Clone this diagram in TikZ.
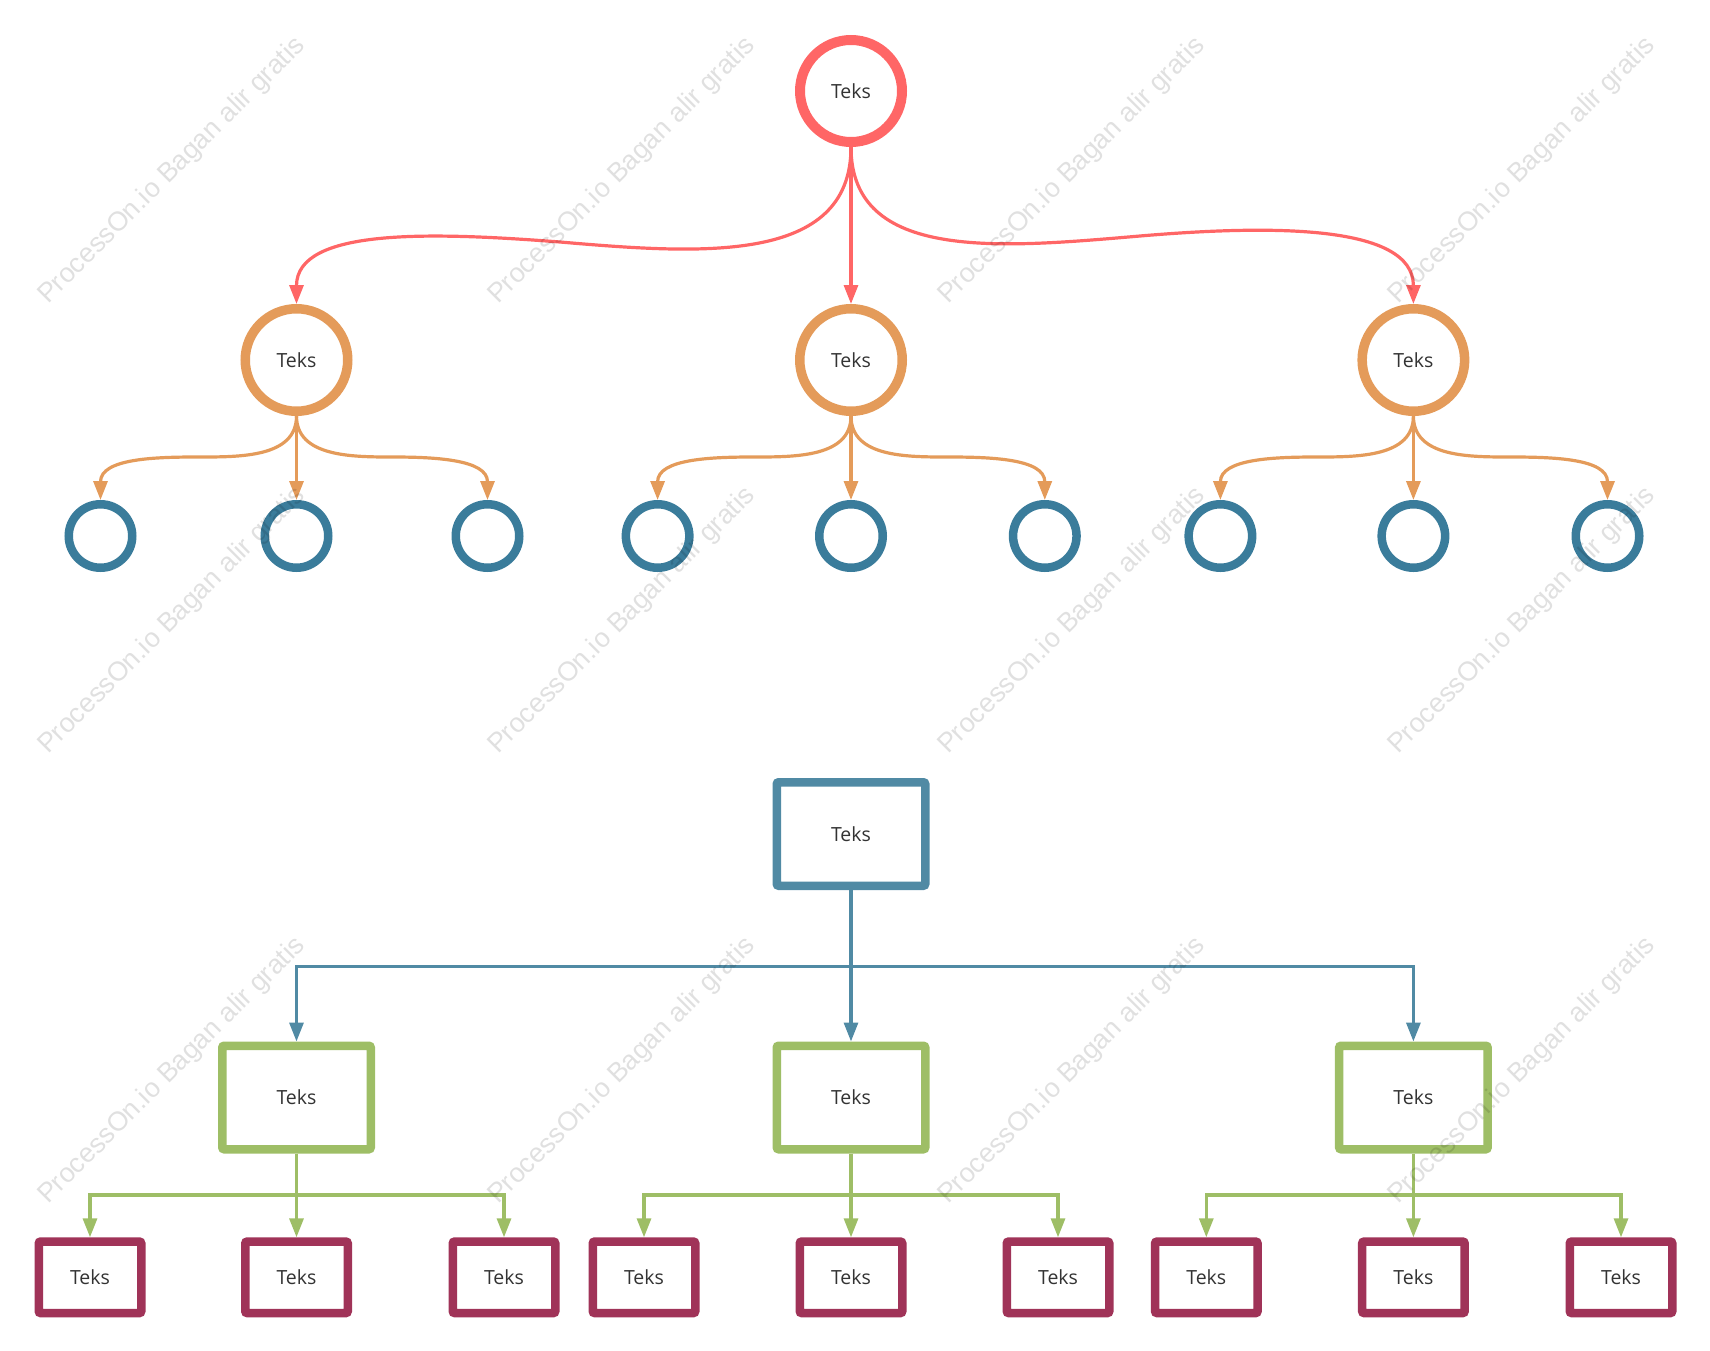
\documentclass[tikz,border=0pt]{standalone}
\usepackage{fontspec}
\setmainfont{Open Sans}
\newfontfamily\wmfont{Liberation Sans}
\usepackage{tikz}
\usetikzlibrary{arrows.meta,shapes}
\definecolor{rootred}{HTML}{FF6666}
\definecolor{midorange}{HTML}{E49B5A}
\definecolor{leafblue}{HTML}{3A7C9B}
\definecolor{boxblue}{HTML}{508AA4}
\definecolor{boxgreen}{HTML}{9EBE66}
\definecolor{boxmagenta}{HTML}{A03358}
\definecolor{tekstext}{HTML}{333333}

\begin{document}
\begin{tikzpicture}[x=1pt, y=1pt,
		teks/.style={font=\fontsize{19.5}{22}\selectfont, text=tekstext},
		rootcirc/.style={circle, teks, draw=rootred, line width=10pt, fill=white, minimum size=102pt, inner sep=0pt},
		midcirc/.style={circle, teks, draw=midorange, line width=9.5pt, fill=white, minimum size=102.5pt, inner sep=0pt},
		leafcirc/.style={circle, draw=leafblue, line width=8.5pt, fill=white, minimum size=63.5pt, inner sep=0pt},
		topbox/.style={rectangle, rounded corners=2pt, teks, draw=boxblue, line width=8.5pt, fill=white, minimum width=148.5pt, minimum height=103.5pt},
		midbox/.style={rectangle, rounded corners=2pt, teks, draw=boxgreen, line width=8.5pt, fill=white, minimum width=148.5pt, minimum height=103.5pt},
		leafbox/.style={rectangle, rounded corners=2pt, teks, draw=boxmagenta, line width=8.5pt, fill=white, minimum width=102.5pt, minimum height=71.5pt},
		conn/.style={-{Triangle[length=19pt,width=14pt]}, line width=3.2pt},
		redarrow/.style={conn, draw=rootred},
		orangearrow/.style={conn, draw=midorange},
		bluearrow/.style={conn, draw=boxblue},
		greenarrow/.style={conn, draw=boxgreen},
		wm/.style={rotate=45, anchor=base west, inner sep=0pt, font=\wmfont\fontsize{27}{30}\selectfont, text=black, text opacity=0.12}
	]
	\useasboundingbox (0,0) rectangle (1710,-1351);

	\node[rootcirc] (r) at (851,-91) {Teks};
	\node[midcirc] (o1) at (296.5,-360) {Teks};
	\node[midcirc] (o2) at (851,-360) {Teks};
	\node[midcirc] (o3) at (1413.4,-360) {Teks};

	\node[leafcirc] (c1) at (100.5,-536) {};
	\node[leafcirc] (c2) at (296.5,-536) {};
	\node[leafcirc] (c3) at (487.5,-536) {};
	\node[leafcirc] (c4) at (657.6,-536) {};
	\node[leafcirc] (c5) at (851,-536) {};
	\node[leafcirc] (c6) at (1044.8,-536) {};
	\node[leafcirc] (c7) at (1220.4,-536) {};
	\node[leafcirc] (c8) at (1413.4,-536) {};
	\node[leafcirc] (c9) at (1607.5,-536) {};

	\coordinate (rl) at (560,-242);
	\coordinate (rr) at (1140,-236);
	\draw[redarrow] (r.south) .. controls +(0,-118) and +(140,-12) .. (rl) .. controls +(-130,10) and +(0,76) .. (o1.north);
	\draw[redarrow] (r.south) -- (o2.north);
	\draw[redarrow] (r.south) .. controls +(0,-115) and +(-140,-12) .. (rr) .. controls +(130,11) and +(0,80) .. (o3.north);

	\coordinate (ol1) at (198.5,-457);
	\coordinate (or1) at (392,-457);
	\coordinate (ol2) at (754.3,-457);
	\coordinate (or2) at (948,-457);
	\coordinate (ol3) at (1317,-457);
	\coordinate (or3) at (1510.5,-457);
	\draw[orangearrow] (o1.south) to[out=-90,in=0] (ol1) to[out=180,in=90] (c1.north);
	\draw[orangearrow] (o1.south) -- (c2.north);
	\draw[orangearrow] (o1.south) to[out=-90,in=180] (or1) to[out=0,in=90] (c3.north);
	\draw[orangearrow] (o2.south) to[out=-90,in=0] (ol2) to[out=180,in=90] (c4.north);
	\draw[orangearrow] (o2.south) -- (c5.north);
	\draw[orangearrow] (o2.south) to[out=-90,in=180] (or2) to[out=0,in=90] (c6.north);
	\draw[orangearrow] (o3.south) to[out=-90,in=0] (ol3) to[out=180,in=90] (c7.north);
	\draw[orangearrow] (o3.south) -- (c8.north);
	\draw[orangearrow] (o3.south) to[out=-90,in=180] (or3) to[out=0,in=90] (c9.north);

	\node[topbox] (tb) at (851,-834) {Teks};
	\node[midbox] (g1) at (296.5,-1097.5) {Teks};
	\node[midbox] (g2) at (851,-1097.5) {Teks};
	\node[midbox] (g3) at (1413.4,-1097.5) {Teks};

	\node[leafbox] (m1) at (90,-1277.3) {Teks};
	\node[leafbox] (m2) at (296.5,-1277.3) {Teks};
	\node[leafbox] (m3) at (504,-1277.3) {Teks};
	\node[leafbox] (m4) at (644,-1277.3) {Teks};
	\node[leafbox] (m5) at (851,-1277.3) {Teks};
	\node[leafbox] (m6) at (1058,-1277.3) {Teks};
	\node[leafbox] (m7) at (1206.3,-1277.3) {Teks};
	\node[leafbox] (m8) at (1413.4,-1277.3) {Teks};
	\node[leafbox] (m9) at (1621,-1277.3) {Teks};

	\coordinate (bs) at (851,-966.7);
	\draw[bluearrow] (tb.south) -- (bs) -| (g1.north);
	\draw[bluearrow] (tb.south) -- (g2.north);
	\draw[bluearrow] (bs) -| (g3.north);

	\coordinate (gs1) at (296.5,-1195);
	\coordinate (gs2) at (851,-1195);
	\coordinate (gs3) at (1413.4,-1195);
	\draw[greenarrow] (g1.south) -- (gs1) -| (m1.north);
	\draw[greenarrow] (g1.south) -- (m2.north);
	\draw[greenarrow] (gs1) -| (m3.north);
	\draw[greenarrow] (g2.south) -- (gs2) -| (m4.north);
	\draw[greenarrow] (g2.south) -- (m5.north);
	\draw[greenarrow] (gs2) -| (m6.north);
	\draw[greenarrow] (g3.south) -- (gs3) -| (m7.north);
	\draw[greenarrow] (g3.south) -- (m8.north);
	\draw[greenarrow] (gs3) -| (m9.north);

	\node[wm] (w1) at (48,-305) {ProcessOn.io Bagan alir gratis};
	\node[wm] (w2) at (498,-305) {ProcessOn.io Bagan alir gratis};
	\node[wm] (w3) at (948,-305) {ProcessOn.io Bagan alir gratis};
	\node[wm] (w4) at (1398,-305) {ProcessOn.io Bagan alir gratis};
	\node[wm] (w5) at (48,-755) {ProcessOn.io Bagan alir gratis};
	\node[wm] (w6) at (498,-755) {ProcessOn.io Bagan alir gratis};
	\node[wm] (w7) at (948,-755) {ProcessOn.io Bagan alir gratis};
	\node[wm] (w8) at (1398,-755) {ProcessOn.io Bagan alir gratis};
	\node[wm] (w9) at (48,-1205) {ProcessOn.io Bagan alir gratis};
	\node[wm] (w10) at (498,-1205) {ProcessOn.io Bagan alir gratis};
	\node[wm] (w11) at (948,-1205) {ProcessOn.io Bagan alir gratis};
	\node[wm] (w12) at (1398,-1205) {ProcessOn.io Bagan alir gratis};
\end{tikzpicture}
\end{document}
